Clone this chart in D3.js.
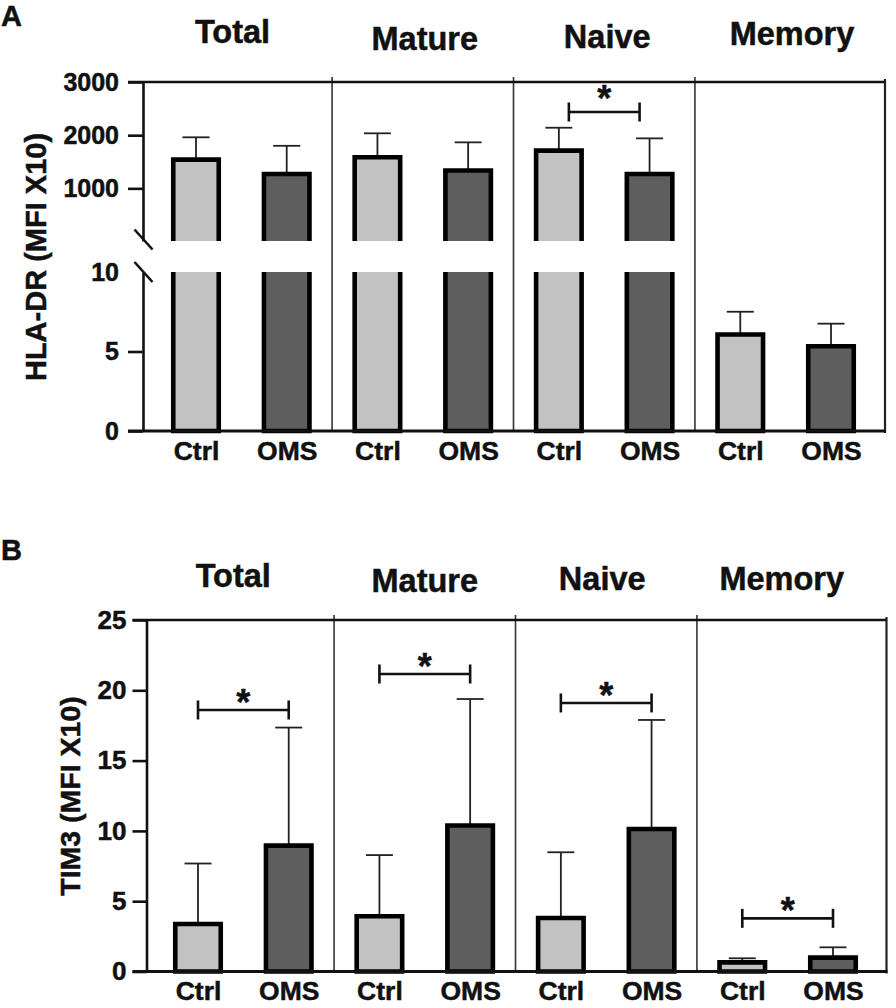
<!DOCTYPE html>
<html><head><meta charset="utf-8">
<script src="https://cdn.jsdelivr.net/npm/d3@7"></script>
<style>
body{margin:0;background:#fff}
svg{display:block}
text{font-family:"Liberation Sans",Arial,Helvetica,sans-serif;font-weight:bold;fill:#111;stroke:#111;stroke-width:0.5px}
</style>
</head><body>
<svg id="c" width="896" height="1008"></svg>
<script>
// ---------- data ----------
const categories = ["Total", "Mature", "Naive", "Memory"];
const groups = ["Ctrl", "OMS"];

// Panel A: HLA-DR (MFI X10)
const hlaCtrl    = [1540, 1585, 1710, 6.07];
const hlaCtrlErr = [420, 450, 430, 1.43];
const hlaOms     = [1270, 1335, 1270, 5.33];
const hlaOmsErr  = [530, 530, 670, 1.42];
const hlaSig     = [null, null, 2436, null];
const hlaUpperTicks = [1000, 2000, 3000];
const hlaLowerTicks = [0, 5, 10];

// Panel B: TIM3 (MFI X10)
const timCtrl    = [3.38, 3.93, 3.8, 0.65];
const timCtrlErr = [4.3, 4.35, 4.68, 0.29];
const timOms     = [8.95, 10.38, 10.14, 0.99];
const timOmsErr  = [8.4, 9.0, 7.75, 0.73];
const timSig     = [18.6, 21.16, 19.1, 3.78];
const timTicks   = [0, 5, 10, 15, 20, 25];

// ---------- drawing ----------
const svg = d3.select("#c");
const fills = {Ctrl: "#c2c2c2", OMS: "#5e5e5e"};
const keys = categories.flatMap(c => groups.map(s => c + "|" + s));

function drawPanel(cfg) {
  const g = svg.append("g");
  const x = d3.scalePoint().domain(keys).range(cfg.xRange);
  const segs = cfg.segments; // ordered from lowest to highest
  const yOf = v => {
    for (const s of segs) if (v >= s.lo && v <= s.hi) return s.scale(v);
    return segs[segs.length - 1].scale(v);
  };
  const data = categories.flatMap((c, i) => [
    {key: c + "|Ctrl", grp: "Ctrl", v: cfg.ctrl[i], e: cfg.ctrlErr[i]},
    {key: c + "|OMS", grp: "OMS", v: cfg.oms[i], e: cfg.omsErr[i]}
  ]);
  const L = cfg.left, R = cfg.right, T = cfg.top, B = cfg.bottom;

  // dividers
  for (let i = 0; i < categories.length - 1; i++) {
    const xd = (x(categories[i] + "|OMS") + x(categories[i + 1] + "|Ctrl")) / 2;
    g.append("line").attr("x1", xd).attr("x2", xd).attr("y1", T - 5).attr("y2", B)
      .attr("stroke", "#333").attr("stroke-width", 1.6);
  }
  // right border
  g.append("line").attr("x1", R).attr("x2", R).attr("y1", T - 3).attr("y2", B + 2)
    .attr("stroke", "#222").attr("stroke-width", 2.2);
  // top line
  g.append("line").attr("x1", L - cfg.tick).attr("x2", R).attr("y1", T).attr("y2", T)
    .attr("stroke", "#111").attr("stroke-width", 2.6);

  // error bars
  const eg = g.append("g").attr("stroke", "#222").attr("stroke-width", 1.8);
  data.forEach(d => {
    const cx = x(d.key), y0 = yOf(d.v), y1 = yOf(d.v + d.e);
    eg.append("line").attr("x1", cx).attr("x2", cx).attr("y1", y0).attr("y2", y1);
    eg.append("line").attr("x1", cx - 13.5).attr("x2", cx + 13.5).attr("y1", y1).attr("y2", y1);
  });

  // bars (pieces per axis segment)
  const bw = 45.5;
  data.forEach(d => {
    const l = x(d.key) - bw / 2, r = x(d.key) + bw / 2;
    segs.forEach(s => {
      if (d.v <= s.lo) return;
      const closedTop = d.v <= s.hi;
      const t = s.scale(Math.min(d.v, s.hi)), b = s.scale(s.lo);
      g.append("rect").attr("x", l).attr("y", t).attr("width", bw).attr("height", b - t)
        .attr("fill", fills[d.grp]);
      let p;
      if (closedTop && !s.openBottom) p = `M${l},${b}V${t}H${r}V${b}Z`;
      else if (closedTop) p = `M${l},${b}V${t}H${r}V${b}`;
      else if (!s.openBottom) p = `M${l},${t}V${b}H${r}V${t}`;
      else p = `M${l},${t}V${b}M${r},${t}V${b}`;
      g.append("path").attr("d", p).attr("fill", "none").attr("stroke", "#000")
        .attr("stroke-width", 4.6).attr("stroke-linejoin", "miter");
    });
  });

  // significance brackets
  cfg.sig.forEach((sv, i) => {
    if (sv == null) return;
    const ys = yOf(sv);
    const xa = x(categories[i] + "|Ctrl") + cfg.sigInset, xb = x(categories[i] + "|OMS") - cfg.sigInset;
    const bg = g.append("g").attr("stroke", "#111").attr("stroke-width", 2.6);
    bg.append("line").attr("x1", xa).attr("x2", xb).attr("y1", ys).attr("y2", ys);
    bg.append("line").attr("x1", xa).attr("x2", xa).attr("y1", ys - 9.5).attr("y2", ys + 9.5);
    bg.append("line").attr("x1", xb).attr("x2", xb).attr("y1", ys - 9.5).attr("y2", ys + 9.5);
    g.append("text").attr("x", (xa + xb) / 2).attr("y", ys + cfg.starDy)
      .attr("text-anchor", "middle").attr("font-size", 36).text("*");
  });

  // y axes
  segs.forEach(s => {
    const ax = g.append("g").attr("transform", `translate(${L},0)`)
      .call(d3.axisLeft(s.scale).tickValues(s.ticks).tickSize(cfg.tick).tickSizeOuter(0)
        .tickPadding(cfg.tickPad).tickFormat(d3.format("d")));
    ax.select(".domain").attr("stroke", "#111").attr("stroke-width", 2.6);
    ax.selectAll(".tick line").attr("stroke", "#111").attr("stroke-width", 2.6);
    ax.selectAll(".tick text").attr("font-size", cfg.tickFont).attr("fill", "#111")
      .style("font-family", '"Liberation Sans",Arial,sans-serif').style("font-weight", "bold");
    if (s.noTickAt != null) ax.selectAll(".tick").filter(d => d === s.noTickAt).select("line").remove();
  });

  // break marks
  if (cfg.breaks) cfg.breaks.forEach(yb => {
    g.append("line").attr("x1", L - 8.5).attr("x2", L + 9.5).attr("y1", yb - 10).attr("y2", yb + 10)
      .attr("stroke", "#111").attr("stroke-width", 2.6);
  });

  // x axis line
  g.append("line").attr("x1", L - cfg.tick).attr("x2", R + 1).attr("y1", B).attr("y2", B)
    .attr("stroke", "#111").attr("stroke-width", 3);

  // x labels
  const xa = g.append("g").attr("transform", `translate(0,${B})`)
    .call(d3.axisBottom(x).tickSize(0).tickPadding(cfg.xPad).tickFormat(k => k.split("|")[1]));
  xa.select(".domain").remove();
  xa.selectAll(".tick text").attr("font-size", 26.5).attr("fill", "#111")
    .style("font-family", '"Liberation Sans",Arial,sans-serif').style("font-weight", "bold");

  // column titles
  const bounds = [L];
  for (let i = 0; i < categories.length - 1; i++)
    bounds.push((x(categories[i] + "|OMS") + x(categories[i + 1] + "|Ctrl")) / 2);
  bounds.push(R);
  categories.forEach((c, i) => {
    g.append("text").attr("x", (bounds[i] + bounds[i + 1]) / 2 + cfg.titleDx[i])
      .attr("y", cfg.titleY + cfg.titleDy[i]).attr("text-anchor", "middle")
      .attr("font-size", 32.5).text(c);
  });

  // y title
  g.append("text").attr("transform", `translate(${cfg.yTitleX},${cfg.yTitleY}) rotate(-90)`)
    .attr("text-anchor", "middle").attr("dy", "0.36em").attr("font-size", cfg.yTitleFont).text(cfg.yTitle);

  // panel letter
  g.append("text").attr("x", cfg.letterX).attr("y", cfg.letterY).attr("font-size", 29).text(cfg.letter);
}

// Panel A scales (broken axis)
const yAU = d3.scaleLinear().domain([10, 3000]).range([241, 82]);
const yAL = d3.scaleLinear().domain([0, 10]).range([431, 272]);
drawPanel({
  letter: "A", letterX: 1, letterY: 26,
  xRange: [196, 831], left: 143, right: 885, top: 82, bottom: 431,
  segments: [
    {scale: yAL, lo: 0, hi: 10, ticks: hlaLowerTicks, openBottom: false, noTickAt: 10},
    {scale: yAU, lo: 10, hi: 3000, ticks: hlaUpperTicks, openBottom: true}
  ],
  breaks: [yAU(10) - 1.5, yAL(10)],
  ctrl: hlaCtrl, ctrlErr: hlaCtrlErr, oms: hlaOms, omsErr: hlaOmsErr,
  sig: hlaSig, sigInset: 10, starDy: -1,
  tick: 15, tickPad: 9, tickFont: 25, xPad: 10,
  titleY: 46, titleDx: [-5, 2, 3, 2], titleDy: [-3, 4, 2, -1],
  yTitle: "HLA-DR (MFI X10)", yTitleX: 36, yTitleY: 257, yTitleFont: 29
});

// Panel B scale
const yB = d3.scaleLinear().domain([0, 25]).range([971.5, 620]);
drawPanel({
  letter: "B", letterX: 1, letterY: 560,
  xRange: [198, 833], left: 146.5, right: 886.5, top: 620, bottom: 971.5,
  segments: [{scale: yB, lo: 0, hi: 25, ticks: timTicks, openBottom: false}],
  breaks: null,
  ctrl: timCtrl, ctrlErr: timCtrlErr, oms: timOms, omsErr: timOmsErr,
  sig: timSig, sigInset: 0, starDy: 5,
  tick: 14, tickPad: 6, tickFont: 26, xPad: 10,
  titleY: 590, titleDx: [-7, 0, -4, -10], titleDy: [-3, 2, 0, 0],
  yTitle: "TIM3 (MFI X10)", yTitleX: 70, yTitleY: 796, yTitleFont: 28.5
});
</script>
</body></html>
